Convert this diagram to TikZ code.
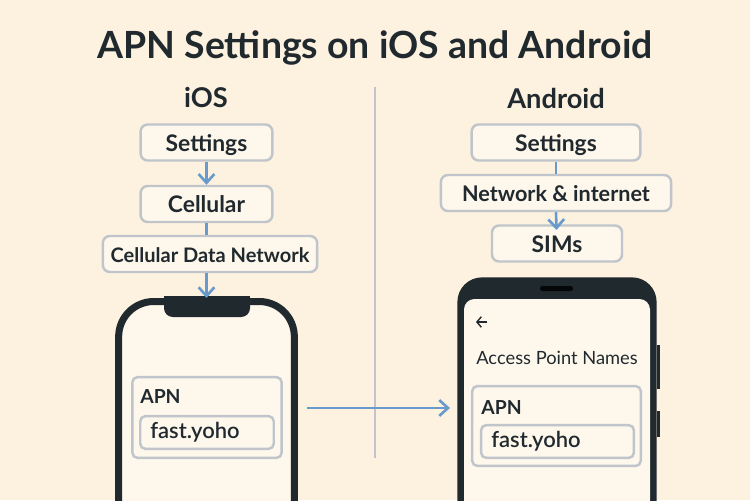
\documentclass[tikz,border=0pt]{standalone}
\usepackage{fontspec}
\setmainfont{Lato}
\newfontfamily\medfont{Lato Semibold}
\usetikzlibrary{arrows.meta}
\definecolor{fond}{RGB}{253,241,223}
\definecolor{pale}{RGB}{254,247,236}
\definecolor{gris}{RGB}{191,197,203}
\definecolor{bleu}{RGB}{104,155,204}
\definecolor{sombre}{RGB}{32,41,46}

\begin{document}
\begin{tikzpicture}[x=0.02cm, y=-0.02cm, ->, >={Straight Barb[length=5pt,width=9pt]}]
  \tikzstyle{step box}=[rectangle, rounded corners=4pt, draw=gris, line width=1.4pt, fill=pale, text=sombre, font=\fontsize{13}{14}\selectfont\bfseries, inner sep=0pt, minimum height=20.5pt, text height=10pt, text depth=0pt]
  \tikzstyle{field}=[rectangle, rounded corners=3pt, draw=gris, line width=1.4pt, inner sep=0pt]
  \tikzstyle{link}=[draw=bleu, line width=1.5pt]
  \tikzstyle{label}=[text=sombre, inner sep=0pt, anchor=west, font=\fontsize{10.4}{14}\selectfont]

	\clip (0,0) rectangle (750,500);
	\fill[fond] (0,0) rectangle (750,500);

	\node[text=sombre, font=\fontsize{21.3}{24}\selectfont\bfseries] (TITLE) at (375,48) {APN Settings on iOS and Android};
	\node[text=sombre, font=\fontsize{15.5}{18}\selectfont\bfseries] (HIOS) at (206,98) {iOS};
	\node[text=sombre, font=\fontsize{15.5}{18}\selectfont\bfseries] (HAND) at (556,98) {Android};

	\coordinate (D0) at (375,87);
	\coordinate (D1) at (375,458);
	\draw[-, draw=gris, line width=1.2pt] (D0) -- (D1);

	% iOS side
	\node[step box, minimum width=75pt] (S1) at (206.5,142.5) {Settings};
	\node[step box, minimum width=75pt] (S2) at (206.5,204) {Cellular};
	\node[step box, minimum width=122pt, font=\fontsize{11.4}{14}\selectfont\bfseries] (S3) at (210,254) {Cellular Data Network};

	\node[rectangle, rounded corners=20pt, draw=sombre, line width=4pt, fill=pale, minimum width=100pt, minimum height=150pt, inner sep=0pt, anchor=north] (PH1) at (206.5,298) {};
	\fill[sombre, rounded corners=5pt] (164,296) rectangle (250,317);
	\fill[sombre] (164,296) rectangle (250,305);

	\node[field, minimum width=85pt, minimum height=46pt] (B1) at (207,417.5) {};
	\node[field, minimum width=76pt, minimum height=18.7pt] (F1) at (207,432.5) {};
	\node[label, font=\fontsize{11}{14}\selectfont\bfseries] (A1) at (140,397) {APN};
	\node[label, font=\fontsize{12.5}{14}\medfont] (V1) at (150,432) {fast.yoho};

	% Android side
	\node[step box, minimum width=96pt] (T1) at (556,142.5) {Settings};
	\node[step box, minimum width=131pt, font=\fontsize{12.3}{14}\selectfont\bfseries] (T2) at (556,193) {Network \& internet};
	\node[step box, minimum width=74pt] (T3) at (557,243.5) {SIMs};

	\fill[sombre] (657,345) rectangle (660,389);
	\fill[sombre] (657,411) rectangle (660,437);
	\node[rectangle, rounded corners=14pt, fill=sombre, minimum width=113.4pt, minimum height=150pt, inner sep=0pt, anchor=north] (PH2) at (557,277) {};
	\fill[pale, rounded corners=6pt] (464,299) rectangle (650,540);
	\fill[black!85!sombre, rounded corners=1.4pt] (540,286) rectangle (573,291);

	\coordinate (BK0) at (487,322);
	\coordinate (BK1) at (476,322);
	\draw[draw=sombre, line width=0.8pt, >={Straight Barb[length=2.5pt,width=6pt]}] (BK0) -- (BK1);
	\node[label] (APNS) at (476,358) {Access Point Names};

	\node[field, minimum width=96pt, minimum height=45.5pt] (B2) at (556.5,426) {};
	\node[field, minimum width=87pt, minimum height=18.7pt] (F2) at (557.5,441.5) {};
	\node[label, font=\fontsize{11}{14}\selectfont\bfseries] (A2) at (481,408) {APN};
	\node[label, font=\fontsize{12.5}{14}\medfont] (V2) at (491,441) {fast.yoho};

	\coordinate (AR0) at (307,408);
	\coordinate (AR1) at (450,408);

	\path
		(S1.south) edge[link] (S2.north)
		(S2.south) edge[link, -] (S2.south |- S3.north)
		(S2.south |- S3.south) edge[link] (S2.south |- PH1.north)
		(T1.south) edge[link, -] (T2.north)
		(T2.south) edge[link] (556.5,230)
		(AR0) edge[link] (AR1)
		;

\end{tikzpicture}
\end{document}
